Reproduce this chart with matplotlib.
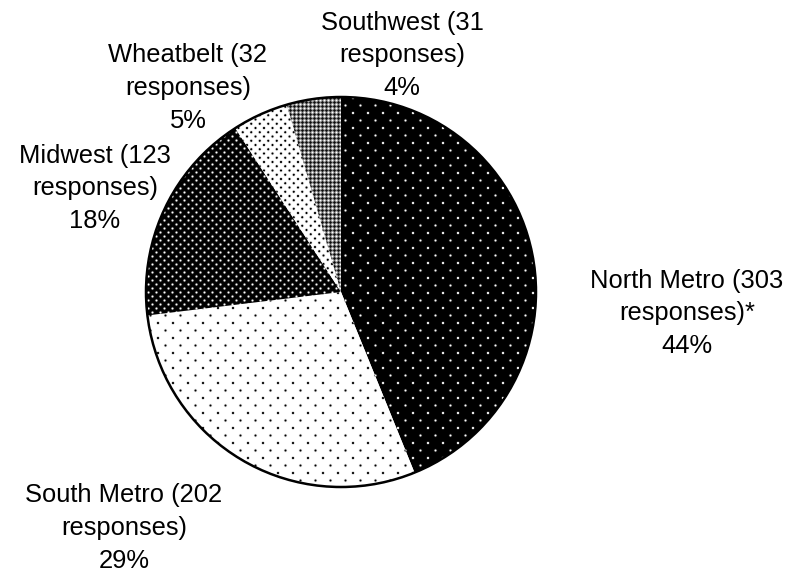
import matplotlib
matplotlib.use('Agg')
import matplotlib.pyplot as plt
import numpy as np
from matplotlib.patches import Circle

regions = ['North Metro', 'South Metro', 'Midwest', 'Wheatbelt', 'Southwest']
responses = [303, 202, 123, 32, 31]
marks = ['*', '', '', '', '']

plt.rcParams['font.family'] = ['Liberation Sans', 'DejaVu Sans']

W, H = 786, 571
R = 195.0           # pie radius in pixels
cx, cy = 341, 292   # pie centre, pixels from top-left

fig = plt.figure(figsize=(W / 100, H / 100), dpi=100)
ax = fig.add_axes([0, 0, 1, 1])

wedges, _ = ax.pie(responses, startangle=90, counterclock=False,
                   wedgeprops=dict(linewidth=0, facecolor='none'))
xlim = (-cx / R, (W - cx) / R)
ylim = (-(H - cy) / R, cy / R)
ax.set_xlim(*xlim)
ax.set_ylim(*ylim)
ax.set_aspect('equal')
ax.axis('off')

# pixel grid for the fill patterns
yy, xx = np.mgrid[0:H, 0:W].astype(float)


def dots(p, sigma=0.7):
    # staggered dot lattice: p apart in a row, rows p/2 apart
    half = p / 2
    out = np.zeros_like(xx)
    j0 = np.floor(yy / half)
    for j in (j0, j0 + 1):
        off = (j % 2) * half
        dx = ((xx - off + half) % p) - half
        d2 = dx ** 2 + (yy - j * half) ** 2
        out = np.maximum(out, np.exp(-d2 / (2 * sigma ** 2)))
    return np.clip(out * 1.5, 0, 1)


tile = np.array([[1.00, 0.70, 0.45, 0.70],
                 [0.70, 0.50, 0.15, 0.50],
                 [0.45, 0.15, 0.05, 0.15],
                 [0.70, 0.50, 0.15, 0.50]])
grid = np.tile(tile, (H // 4 + 1, W // 4 + 1))[:H, :W]

fills = [
    dots(15),          # black with white dots
    1 - dots(15),      # white with black dots
    dots(8),           # black, denser white dots
    1 - dots(8.5),     # white, denser black dots
    grid,              # grey lattice
]

for w, img in zip(wedges, fills):
    im = ax.imshow(img, cmap='gray', vmin=0, vmax=1, interpolation='nearest',
                   extent=(xlim[0], xlim[1], ylim[0], ylim[1]), origin='upper',
                   zorder=2)
    im.set_clip_path(w)

ax.add_patch(Circle((0, 0), 1, fill=False, ec='black', lw=1.8, zorder=5))

# label block centres, in pie-radius units
label_pos = [(1.775, -0.108), (-1.113, -1.21), (-1.262, 0.533),
             (-0.785, 1.046), (0.313, 1.215)]

total = sum(responses)
for name, n, m, (lx, ly) in zip(regions, responses, marks, label_pos):
    pct = round(100 * n / total)
    ax.text(lx, ly, f'{name} ({n}\nresponses){m}\n{pct}%', ha='center',
            va='center', fontsize=18.4, linespacing=1.45)

fig.savefig('out.png', dpi=100)
